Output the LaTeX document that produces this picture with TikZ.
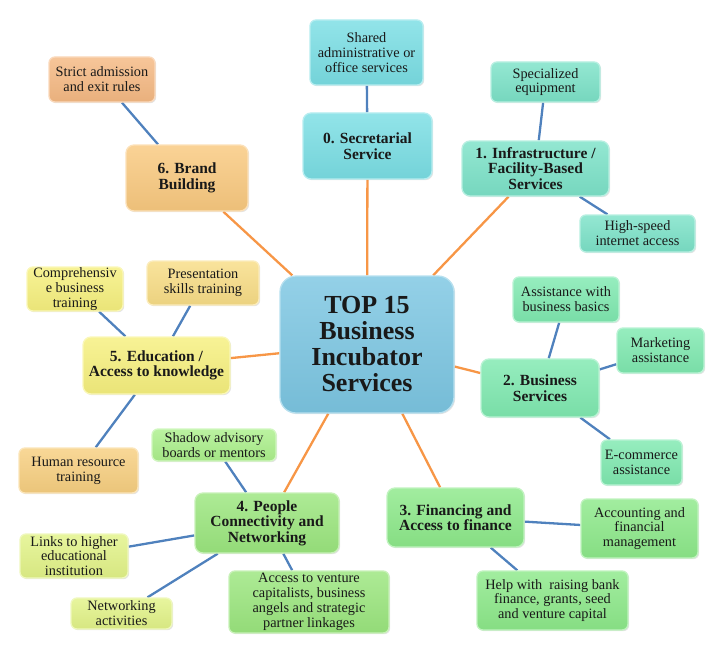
\documentclass[tikz,border=0pt]{standalone}
\usepackage{fontspec}
\setmainfont{Liberation Serif}
\usetikzlibrary{shadows,backgrounds}
\definecolor{cCenter}{RGB}{124,198,226}
\definecolor{cCyan}{RGB}{122,222,228}
\definecolor{cTeal}{RGB}{124,226,200}
\definecolor{cMint}{RGB}{127,233,176}
\definecolor{cLgreen}{RGB}{141,233,138}
\definecolor{cPeople}{RGB}{155,230,126}
\definecolor{cShadow}{RGB}{172,240,140}
\definecolor{cYgreen}{RGB}{226,243,136}
\definecolor{cYellow}{RGB}{246,240,126}
\definecolor{cPres}{RGB}{248,221,134}
\definecolor{cHr}{RGB}{247,207,128}
\definecolor{cBrand}{RGB}{249,201,127}
\definecolor{cStrict}{RGB}{245,185,131}
\definecolor{cOrange}{RGB}{247,150,70}
\definecolor{cBlue}{RGB}{79,129,189}
\definecolor{cText}{RGB}{25,25,25}
\tikzset{
  bx/.style={rounded corners=6pt, draw=#1!55!white, line width=1.3pt,
    top color=#1!82!white, bottom color=#1!95!black, shading angle=0,
    drop shadow={shadow xshift=1.2pt, shadow yshift=-1.2pt, opacity=0.22},
    align=center, inner sep=0pt, text=cText},
  subt/.style={font=\fontsize{14.3}{14.8}\selectfont},
  maint/.style={font=\bfseries\fontsize{15.5}{15.5}\selectfont, rounded corners=8pt},
  sz/.style 2 args={minimum width=#1, minimum height=#2},
  mainln/.style={draw=cOrange, line width=2.3pt},
  subln/.style={draw=cBlue, line width=2.3pt}
}
\begin{document}
\begin{tikzpicture}[x=1pt,y=-1pt]
\useasboundingbox (0,0) rectangle (717,650);
% center
\node[bx=cCenter, sz={174pt}{137pt}, rounded corners=16pt, font=\bfseries\fontsize{26}{26}\selectfont] (ctr) at (367,344.5) {TOP 15\\Business\\Incubator\\Services};
% main nodes
\node[bx=cCyan, maint, sz={129pt}{66pt}] (sec) at (367.5,146) {0. Secretarial\\Service};
\node[bx=cTeal, maint, sz={147pt}{55pt}] (infra) at (535.5,168.5) {1. Infrastructure /\\Facility-Based\\Services};
\node[bx=cMint, maint, sz={118pt}{58pt}] (biz) at (540,388) {2. Business\\Services};
\node[bx=cLgreen, maint, sz={137pt}{59pt}] (fin) at (455.5,517.5) {3. Financing and\\Access to finance};
\node[bx=cPeople, maint, sz={144pt}{60pt}] (people) at (267,523) {4. People\\Connectivity and\\Networking};
\node[bx=cYellow, maint, sz={147pt}{57pt}] (edu) at (156.5,365.5) {5. Education /\\Access to knowledge};
\node[bx=cBrand, maint, sz={122pt}{66pt}] (brand) at (187,178) {6. Brand\\Building};
% sub nodes
\node[bx=cCyan, subt, sz={113pt}{65pt}] (shared) at (366.5,52.5) {Shared\\administrative or\\office services};
\node[bx=cTeal, subt, sz={109pt}{40pt}] (spec) at (545.5,82) {Specialized\\equipment};
\node[bx=cTeal, subt, sz={115pt}{37pt}] (hsi) at (637.5,233.5) {High-speed\\internet access};
\node[bx=cMint, subt, sz={106pt}{45pt}] (bizbas) at (566,299.5) {Assistance with\\business basics};
\node[bx=cMint, subt, sz={87pt}{45pt}] (mkt) at (660.5,350.5) {Marketing\\assistance};
\node[bx=cMint, subt, sz={81pt}{45pt}] (ecom) at (641.5,462.5) {E-commerce\\assistance};
\node[bx=cLgreen, subt, sz={117pt}{59pt}] (acct) at (639.5,528.5) {Accounting and\\financial\\management};
\node[bx=cLgreen, subt, sz={151pt}{59pt}] (help) at (552.5,600.5) {Help with\ \ raising bank\\finance, grants, seed\\and venture capital};
\node[bx=cShadow, subt, sz={124pt}{32pt}] (shadow) at (214,445) {Shadow advisory\\boards or mentors};
\node[bx=cPeople, subt, sz={160pt}{62pt}] (access) at (309,602) {Access to venture\\capitalists, business\\angels and strategic\\partner linkages};
\node[bx=cYgreen, subt, sz={108pt}{44pt}] (links) at (74,556) {Links to higher\\educational\\institution};
\node[bx=cYgreen, subt, sz={101pt}{31pt}] (netw) at (121.5,613.5) {Networking\\activities};
\node[bx=cHr, subt, sz={119pt}{45pt}] (hr) at (78.5,470.5) {Human resource\\training};
\node[bx=cYellow, subt, sz={96pt}{44pt}] (comp) at (75,289) {Comprehensiv\\e business\\training};
\node[bx=cPres, subt, sz={112pt}{44pt}] (pres) at (203,283) {Presentation\\skills training};
\node[bx=cStrict, subt, sz={106pt}{45pt}] (strict) at (102,79.5) {Strict admission\\and exit rules};
% connectors
\begin{pgfonlayer}{background}
\foreach \m in {sec,infra,biz,fin,people,edu,brand}
  \draw[mainln] (ctr) -- (\m);
\draw[subln] (sec) -- (shared);
\draw[subln] (infra) -- (spec);
\draw[subln] (infra) -- (hsi);
\draw[subln] (biz) -- (bizbas);
\draw[subln] (biz) -- (mkt);
\draw[subln] (biz) -- (ecom);
\draw[subln] (fin) -- (acct);
\draw[subln] (fin) -- (help);
\draw[subln] (people) -- (shadow);
\draw[subln] (people) -- (access);
\draw[subln] (people) -- (links);
\draw[subln] (people) -- (netw);
\draw[subln] (edu) -- (comp);
\draw[subln] (edu) -- (pres);
\draw[subln] (edu) -- (hr);
\draw[subln] (brand) -- (strict);
\end{pgfonlayer}
\end{tikzpicture}
\end{document}
